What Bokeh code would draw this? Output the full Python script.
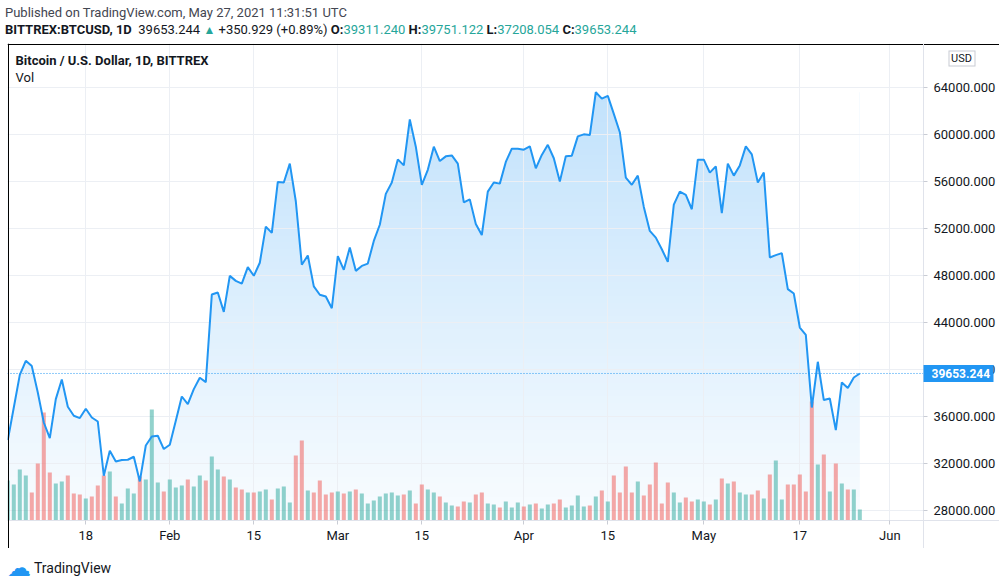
import numpy as np
import pandas as pd
from bokeh.plotting import figure
from bokeh.layouts import column
from bokeh.models import (Range1d, FixedTicker, PrintfTickFormatter, Label, Span, LinearAxis, Div,
                          Grid, BoxAnnotation)
from bokeh.embed import file_html
from bokeh.resources import INLINE

# ---------------- data ----------------
close_jan = [33990, 36760, 39540, 40730, 40280, 38035, 35485, 34160, 37475, 39140, 36820, 36055,
             35860, 36650, 35910, 35570, 30955, 33080, 32170, 32290, 32315, 32570, 30470, 33530,
             34295, 34355, 33225]
close_feb = [33590, 35630, 37695, 37050, 38325, 39285, 38920, 46365, 46535, 44895, 47955, 47530,
             47300, 48700, 47960, 49070, 52145, 51610, 55945, 55900, 57500, 54300, 48900, 49690,
             47060, 46350, 46200, 45200]
close_mar = [49630, 48470, 50370, 48380, 48800, 49000, 50930, 52300, 54930, 55900, 57860, 57350,
             61265, 58940, 55700, 56970, 58940, 57720, 58120, 58200, 57500, 54200, 54460, 52360,
             51430, 55120, 55890, 55800, 57645, 58775, 58775]
close_apr = [58690, 58970, 57100, 58240, 59100, 57960, 55970, 58120, 58180, 59820, 59990, 59930,
             63570, 63030, 63260, 61730, 60170, 56310, 55700, 56480, 53820, 51780, 51210, 50220,
             49140, 54010, 55120, 54840, 53620, 57840]
close_may = [57840, 56730, 57270, 53300, 57500, 56480, 57350, 58970, 58290, 55890, 56740, 49520,
             49720, 49890, 46830, 46450, 43560, 42940, 36760, 40650, 37390, 37525, 34840, 38890,
             38410, 39310, 39653.244]

# volume (relative units)
vol_jan = [40, 36, 51, 45, 28, 57, 108, 48, 37, 39, 45, 27, 26, 22, 24, 35, 45, 49, 24, 17, 32, 27,
           44, 41, 111, 38, 29]
vol_feb = [41, 33, 35, 41, 34, 45, 40, 64, 51, 44, 41, 33, 31, 28, 28, 29, 31, 21, 32, 34, 18, 65,
           80, 30, 28, 40, 26, 28]
vol_mar = [29, 27, 29, 31, 27, 17, 20, 24, 27, 28, 25, 26, 30, 17, 36, 31, 28, 24, 18, 15, 14, 19,
           18, 26, 28, 17, 16, 13, 19, 13, 18]
vol_apr = [14, 16, 17, 12, 16, 17, 21, 13, 15, 25, 14, 15, 24, 30, 19, 45, 28, 54, 28, 39, 25, 36,
           58, 17, 38, 28, 18, 23, 19, 21]
vol_may = [19, 16, 21, 42, 37, 39, 28, 26, 26, 30, 22, 46, 60, 21, 36, 36, 46, 29, 119, 56, 66, 29,
           57, 37, 31, 31, 11]

# bar colour as read: g = up, r = down
dir_jan = "ggggrrrrggrrrgrrrgrgggrgggr"
dir_feb = "gggrggrggrgrrgrggrgggrrgrrrr"
dir_mar = "grgrgggggggrgrrggrggrrgrrggrggg"
dir_apr = "rgrggrrggggrgrgrrrrgrrrrrggrrg"
dir_may = "grgrgrggrrgrggrrrrrgrgrgrgg"

price_ticks = [28000, 32000, 36000, 40000, 44000, 48000, 52000, 56000, 60000, 64000]
time_tick_dates = ["2021-01-18", "2021-02-01", "2021-02-15", "2021-03-01", "2021-03-15",
                   "2021-04-01", "2021-04-15", "2021-05-01", "2021-05-17", "2021-06-01"]
time_tick_labels = ["18", "Feb", "15", "Mar", "15", "Apr", "15", "May", "17", "Jun"]

header1 = "Published on TradingView.com, May 27, 2021 11:31:51 UTC"
symbol = "BITTREX:BTCUSD, 1D"
last_txt = "39653.244"
change_txt = "+350.929 (+0.89%)"
ohlc = [("O:", "39311.240"), ("H:", "39751.122"), ("L:", "37208.054"), ("C:", "39653.244")]
chart_title = "Bitcoin / U.S. Dollar, 1D, BITTREX"
currency = "USD"
brand = "TradingView"
last_price = 39653.244

# ---------------- assemble ----------------
dates = pd.date_range("2021-01-05", "2021-05-27", freq="D")
close = np.array(close_jan + close_feb + close_mar + close_apr + close_may, dtype=float)
volume = np.array(vol_jan + vol_feb + vol_mar + vol_apr + vol_may, dtype=float)
direction = dir_jan + dir_feb + dir_mar + dir_apr + dir_may
assert len(dates) == len(close) == len(volume) == len(direction)

UP, DOWN = "#26a69a", "#ef5350"
BLUE = "#2196f3"
TXT = "#131722"
SEP = "#e0e3eb"
FONT = "Roboto"
bar_colors = [UP if d == "g" else DOWN for d in direction]

# the whole chart box (page 7..999 x 43..548) is the plot frame
CW, CH = 992, 505
PANE_W, PANE_H = 916, 477          # price pane inside the box; scales live in the rest
MS_DAY = 86400000.0
anchor = pd.Timestamp("2021-01-18")
x_start = anchor - pd.Timedelta(days=13.05)
x_end = anchor + pd.Timedelta(days=152.28)
xs_ms, xe_ms = x_start.value / 1e6, x_end.value / 1e6
y_bot, y_top = 24768.0, 67717.0


def px_x(px):   # canvas px -> x data (ms)
    return xs_ms + px / CW * (xe_ms - xs_ms)


def px_y(py):   # canvas px (from top) -> price
    return y_top - py / CH * (y_top - y_bot)


scale_x = px_x(PANE_W)     # where the price scale starts
scale_y = px_y(PANE_H)     # where the time scale starts

p = figure(width=CW, height=CH, x_axis_type="datetime", x_axis_location=None,
           y_axis_location=None, x_range=Range1d(x_start, x_end), y_range=Range1d(y_bot, y_top),
           output_backend="svg", toolbar_location=None,
           min_border_left=0, min_border_right=0, min_border_top=0, min_border_bottom=0)
p.grid.visible = False
p.outline_line_color = None
p.background_fill_color = "white"
p.border_fill_color = "white"
p.extra_y_ranges = {"vol": Range1d(-(CH - PANE_H), PANE_H)}
p.margin = (0, 0, 0, 7)

# gradient under the area (image), masked above the line with white
n = 256
t = np.linspace(0.0, 1.0, n)
alpha = 0.03 + 0.25 * t
rgba = np.zeros((n, 1, 4), dtype=np.uint8)
rgba[..., 0] = 33
rgba[..., 1] = 150
rgba[..., 2] = 243
rgba[..., 3] = (alpha * 255).astype(np.uint8)[:, None]
img = rgba.view(np.uint32).reshape(n, 1)
x0 = dates[0].value / 1e6
x1 = dates[-1].value / 1e6
p.image_rgba(image=[img], x=x0, y=scale_y, dw=x1 - x0, dh=close.max() - scale_y, level="image")
p.varea(x=dates, y1=close, y2=y_top, fill_color="white", level="image")

# grid
y_ticker = FixedTicker(ticks=price_ticks)
tick_ms = [pd.Timestamp(d).value // 10**6 for d in time_tick_dates]
x_ticker = FixedTicker(ticks=tick_ms)
for dim, tk in ((0, x_ticker), (1, y_ticker)):
    p.add_layout(Grid(dimension=dim, ticker=tk, grid_line_color="#eceff4", grid_line_width=1))
p.add_layout(Span(location=last_price, dimension="width", line_color=BLUE, line_width=1,
                  line_dash="1 2", level="underlay"))
# keep grid / dotted line out of the scale bands
p.add_layout(BoxAnnotation(left=scale_x, fill_color="white", fill_alpha=1, line_color=None,
                           level="underlay"))
p.add_layout(BoxAnnotation(top=scale_y, fill_color="white", fill_alpha=1, line_color=None,
                           level="underlay"))

# volume bars
p.vbar(x=dates, top=volume, bottom=0, width=0.67 * MS_DAY, y_range_name="vol",
       fill_color=bar_colors, fill_alpha=0.5, line_color=None)

# price line
p.line(dates, close, line_color=BLUE, line_width=2)

# price scale
yax = LinearAxis(fixed_location=scale_x, ticker=y_ticker, formatter=PrintfTickFormatter(format="%.3f"))
xax = LinearAxis(fixed_location=scale_y, ticker=x_ticker,
                 major_label_overrides={k: v for k, v in zip(tick_ms, time_tick_labels)})
for ax in (xax, yax):
    ax.axis_line_color = SEP
    ax.major_tick_line_color = "#c9ccd4"
    ax.major_tick_in = 0
    ax.major_tick_out = 4
    ax.minor_tick_line_color = None
    ax.major_label_text_font = FONT
    ax.major_label_text_font_size = "13px"
    ax.major_label_text_color = TXT
yax.major_label_standoff = 6
xax.major_label_standoff = 3
p.add_layout(yax, "right")
p.add_layout(xax, "below")


def marker_axis(loc, tick, out, width, color, label="", lcolor=TXT, standoff=0, size="13px",
                bold=False, side="right", line_color=None, line_width=1):
    ax = LinearAxis(fixed_location=loc, ticker=FixedTicker(ticks=[tick]),
                    axis_line_color=line_color, axis_line_width=line_width,
                    major_tick_in=0, major_tick_out=out, major_tick_line_width=width,
                    major_tick_line_color=color, major_tick_line_cap="butt",
                    minor_tick_line_color=None, major_label_overrides={tick: label},
                    major_label_standoff=standoff, major_label_text_color=lcolor,
                    major_label_text_font=FONT, major_label_text_font_size=size,
                    major_label_text_font_style="bold" if bold else "normal")
    p.add_layout(ax, side)


# black frame round the chart box: bare axis rules along its edges
y_mid = (y_bot + y_top) / 2
x_mid = (xs_ms + xe_ms) / 2
marker_axis(px_x(0.5), y_mid, 0, 1, None, side="left", line_color="black")
marker_axis(px_x(CW - 0.5), y_mid, 0, 1, None, side="right", line_color="black")
marker_axis(px_y(0.5), x_mid, 0, 1, None, side="above", line_color="black")
marker_axis(px_y(CH - 0.5), x_mid, 0, 1, None, side="below", line_color="black")

# last price tag on the price scale
marker_axis(scale_x, last_price, 70, 17, BLUE, label=last_txt, lcolor="white", standoff=-62,
            size="12px", bold=True)
# currency box
usd_y = px_y(15.3)
marker_axis(px_x(940.5), usd_y, 27, 16, "#c8cbd3")
marker_axis(px_x(941.5), usd_y, 25, 14, "white", label=currency, standoff=-23, size="11px")

# texts inside the chart pane
for txt, yy, st in [(chart_title, 17, "bold"), ("Vol", 34, "normal")]:
    p.add_layout(Label(text=txt, x=8, y=yy, x_units="canvas", y_units="canvas", text_color=TXT,
                       text_font=FONT, text_font_size="13px", text_font_style=st,
                       text_baseline="middle"))

# header and footer
G = f'<span style="color:{UP}">'
parts = " ".join(f"<b>{k}</b>{G}{v}</span>" for k, v in ohlc)
header_html = (
    f'<div style="font-family:{FONT};font-size:13px;line-height:17px;padding:4px 0 0 5px;'
    f'white-space:nowrap;color:{TXT}">'
    f'<div style="color:#434651">{header1}</div>'
    f'<div><b>{symbol}</b>&nbsp; {last_txt} {G}<span style="font-size:12px">&#9650;</span></span>'
    f' {change_txt} {parts}</div></div>')
footer_html = (
    f'<div style="font-family:{FONT};font-size:13px;padding:10px 0 0 7px;white-space:nowrap;'
    f'color:{TXT};display:flex;align-items:center">'
    f'<span style="font-family:\'DejaVu Sans\';color:{BLUE};font-size:24px;line-height:18px">'
    f'&#9729;</span><span style="margin-left:3px;font-size:14px">{brand}</span></div>')
header = Div(text=header_html, width=1006, height=43, margin=0)
footer = Div(text=footer_html, width=1006, height=37, margin=0)

layout = column(header, p, footer, spacing=0)
open("out.html", "w").write(file_html(layout, INLINE))
